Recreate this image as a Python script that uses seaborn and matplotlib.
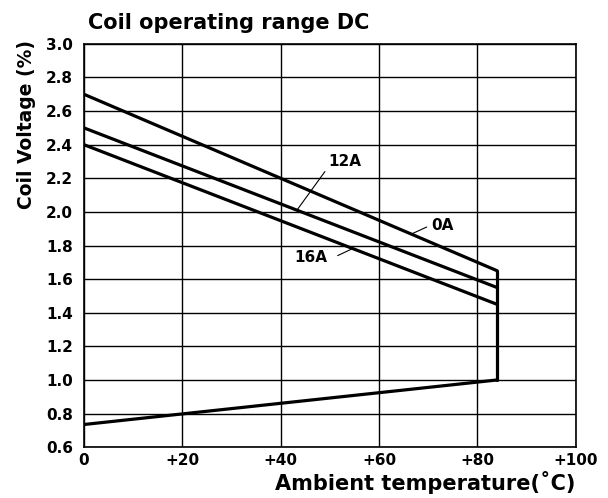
import matplotlib
matplotlib.use("Agg")
import matplotlib.pyplot as plt
import seaborn as sns
import pandas as pd

# Data
temp_line = [0, 84]
v_0A = [2.70, 1.65]
v_12A = [2.50, 1.55]
v_16A = [2.40, 1.45]
v_min = [0.735, 1.00]
v_edge_temp = [84, 84]
v_edge = [1.00, 1.65]

x_ticks = [0, 20, 40, 60, 80, 100]
x_ticklabels = ["0", "+20", "+40", "+60", "+80", "+100"]
y_ticks = [0.6, 0.8, 1.0, 1.2, 1.4, 1.6, 1.8, 2.0, 2.2, 2.4, 2.6, 2.8, 3.0]

rows = []
for name, xs, ys in [("0A", temp_line, v_0A), ("12A", temp_line, v_12A),
                     ("16A", temp_line, v_16A), ("min", temp_line, v_min),
                     ("edge", v_edge_temp, v_edge)]:
    for x, y in zip(xs, ys):
        rows.append({"series": name, "temp": x, "volt": y})
df = pd.DataFrame(rows)

sns.set_style("white")
plt.rcParams["font.family"] = ["DejaVu Sans"]
plt.rcParams["text.color"] = "black"
plt.rcParams["axes.labelcolor"] = "black"
plt.rcParams["xtick.color"] = "black"
plt.rcParams["ytick.color"] = "black"

fig = plt.figure(figsize=(6.08, 4.98), dpi=100)
ax = fig.add_axes([0.138, 0.102, 0.809, 0.81])

sns.lineplot(data=df, x="temp", y="volt", units="series", estimator=None,
             color="black", linewidth=2.3, sort=False, ax=ax, legend=False)

ax.set_xlim(0, 100)
ax.set_ylim(0.6, 3.0)
ax.set_xticks(x_ticks)
ax.set_xticklabels(x_ticklabels, fontsize=11, fontweight="bold")
ax.set_yticks(y_ticks)
ax.set_yticklabels([f"{v:.1f}" for v in y_ticks], fontsize=11, fontweight="bold")
ax.tick_params(axis="y", length=0, pad=8)
ax.tick_params(axis="x", length=0, pad=4)
ax.grid(True, color="black", linewidth=1.0)
for s in ax.spines.values():
    s.set_color("black")
    s.set_linewidth(1.2)

ax.set_xlabel("Ambient temperature(˚C)", fontsize=15, fontweight="bold",
              loc="right", labelpad=2)
ax.set_ylabel("Coil Voltage (%)", fontsize=13.5, fontweight="bold")
ax.yaxis.set_label_coords(-0.097, 0.80)
ax.set_title("Coil operating range DC", fontsize=15, fontweight="bold",
             loc="left", pad=11, x=0.008)

# annotations
line_kw = dict(color="black", lw=0.8)
ax.text(53, 2.30, "12A", fontsize=11, fontweight="bold", ha="center", va="center")
ax.plot([49, 43.3], [2.24, 2.01], **line_kw)
ax.text(72.8, 1.92, "0A", fontsize=11, fontweight="bold", ha="center", va="center")
ax.plot([69.7, 66.7], [1.91, 1.87], **line_kw)
ax.text(46.1, 1.73, "16A", fontsize=11, fontweight="bold", ha="center", va="center")
ax.plot([51.6, 54.5], [1.74, 1.78], **line_kw)

fig.savefig("out.png", dpi=100)
